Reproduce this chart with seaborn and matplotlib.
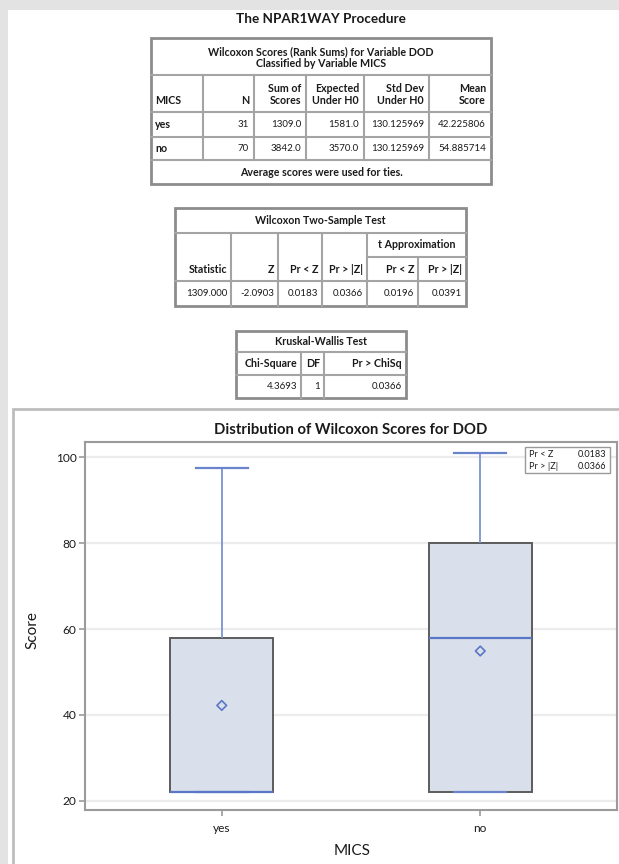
import numpy as np
import pandas as pd
import matplotlib
matplotlib.use("Agg")
import matplotlib.pyplot as plt
import matplotlib.patches as patches
import seaborn as sns

# ---- data ----
groups = ["yes", "no"]
n_obs = ["31", "70"]
sum_scores = ["1309.0", "3842.0"]
expected = ["1581.0", "3570.0"]
std_dev = ["130.125969", "130.125969"]
mean_scores = [42.225806, 54.885714]

# five number summaries (min, q1, median, q3, max)
five_num_yes = [22, 22, 22, 58, 97.5]
five_num_no = [22, 22, 58, 80, 101]

rank_headers = [["MICS"], ["N"], ["Sum of", "Scores"], ["Expected", "Under H0"],
                ["Std Dev", "Under H0"], ["Mean", "Score"]]

wilcoxon_headers = ["Statistic", "Z", "Pr < Z", "Pr > |Z|", "Pr < Z", "Pr > |Z|"]
wilcoxon_values = ["1309.000", "-2.0903", "0.0183", "0.0366", "0.0196", "0.0391"]

kw_headers = ["Chi-Square", "DF", "Pr > ChiSq"]
kw_values = ["4.3693", "1", "0.0366"]

inset_labels = ["Pr < Z", "Pr > |Z|"]
inset_values = ["0.0183", "0.0366"]

y_ticks = [20, 40, 60, 80, 100]

plt.rcParams["font.family"] = ["Lato", "DejaVu Sans"]

W, H = 619, 864
fig = plt.figure(figsize=(W / 100, H / 100), dpi=100, facecolor="#e3e3e3")

BOLD = 7.7   # table header text
NORM = 7.0   # table numbers


def fx(x):
    return x / W


def fy(y):
    return 1 - y / H


def txt(x, y, s, size=NORM, ha="center", va="center", weight="normal", **kw):
    fig.text(fx(x), fy(y), s, fontsize=size, ha=ha, va=va, fontweight=weight,
             color="#1a1a1a", **kw)


def rect(x0, y0, x1, y1, ec="#a4a4a4", lw=1.4, fc=None, z=1):
    fig.add_artist(patches.Rectangle((fx(x0), fy(y1)), fx(x1) - fx(x0), fy(y0) - fy(y1),
                                     transform=fig.transFigure, fill=fc is not None,
                                     facecolor=fc, edgecolor=ec, lw=lw, zorder=z))


def hline(y, x0, x1, c="#a4a4a4", lw=1.5):
    fig.add_artist(plt.Line2D([fx(x0), fx(x1)], [fy(y), fy(y)], color=c, lw=lw,
                              transform=fig.transFigure))


def vline(x, y0, y1, c="#a4a4a4", lw=1.5):
    fig.add_artist(plt.Line2D([fx(x), fx(x)], [fy(y0), fy(y1)], color=c, lw=lw,
                              transform=fig.transFigure))


# white page + plot panel
rect(8, 10, 640, 880, ec="none", fc="white", z=0)
rect(12.5, 409, 640, 880, ec="#bdbdbd", lw=2, z=0.5)

# ---- table 1: rank sums ----
txt(321, 19, "The NPAR1WAY Procedure", size=9.7, weight="bold")
xs1 = [151, 203, 254, 306, 364, 429, 491]
ys1 = [38, 75, 112, 137, 160, 184]
rect(xs1[0], ys1[0], xs1[-1], ys1[-1], ec="#8c8c8c", lw=2)
for y in ys1[1:-1]:
    hline(y, xs1[0], xs1[-1])
for x in xs1[1:-1]:
    vline(x, ys1[1], ys1[4])
txt(321, 52, "Wilcoxon Scores (Rank Sums) for Variable DOD", size=BOLD, weight="bold")
txt(321, 63.5, "Classified by Variable MICS", size=BOLD, weight="bold")
for i, lines in enumerate(rank_headers):
    for j, line in enumerate(reversed(lines)):
        if i == 0:
            txt(xs1[0] + 4, 101 - 12.5 * j, line, size=BOLD, ha="left", weight="bold")
        else:
            txt(xs1[i + 1] - 5, 101 - 12.5 * j, line, size=BOLD, ha="right", weight="bold")
rows = list(zip(groups, n_obs, sum_scores, expected, std_dev,
                ["%.6f" % m for m in mean_scores]))
for row, yc in zip(rows, [124.5, 148.5]):
    txt(xs1[0] + 4, yc, row[0], size=BOLD, ha="left", weight="bold")
    for i, val in enumerate(row[1:], start=1):
        txt(xs1[i + 1] - 5, yc, val, size=NORM, ha="right")
txt(321, 172.5, "Average scores were used for ties.", size=BOLD, weight="bold")

# ---- table 2: Wilcoxon two-sample test ----
xs2 = [175, 231, 278, 322, 367, 418, 466]
ys2 = [208, 233, 281, 306]
rect(xs2[0], ys2[0], xs2[-1], ys2[-1], ec="#8c8c8c", lw=2)
hline(ys2[1], xs2[0], xs2[-1])
hline(ys2[2], xs2[0], xs2[-1])
hline(257, xs2[4], xs2[-1])
for x in xs2[1:5]:
    vline(x, ys2[1], ys2[3])
vline(xs2[5], 257, ys2[3])
txt(320.5, 220.5, "Wilcoxon Two-Sample Test", size=BOLD, weight="bold")
txt((xs2[4] + xs2[6]) / 2, 245, "t Approximation", size=BOLD, weight="bold")
for i, (hd, val) in enumerate(zip(wilcoxon_headers, wilcoxon_values)):
    txt(xs2[i + 1] - 4, 269.5, hd, size=BOLD, ha="right", weight="bold")
    txt(xs2[i + 1] - 4, 293.5, val, size=NORM, ha="right")

# ---- table 3: Kruskal-Wallis ----
xs3 = [236, 301, 324, 406]
ys3 = [331, 352, 375, 398]
rect(xs3[0], ys3[0], xs3[-1], ys3[-1], ec="#8c8c8c", lw=2)
hline(ys3[1], xs3[0], xs3[-1])
hline(ys3[2], xs3[0], xs3[-1])
for x in xs3[1:-1]:
    vline(x, ys3[1], ys3[3])
txt(321, 342, "Kruskal-Wallis Test", size=BOLD, weight="bold")
for i, (hd, val) in enumerate(zip(kw_headers, kw_values)):
    txt(xs3[i + 1] - 4, 363.5, hd, size=BOLD, ha="right", weight="bold")
    txt(xs3[i + 1] - 4, 386.5, val, size=NORM, ha="right")

# ---- box plot ----
df = pd.DataFrame({"MICS": np.repeat(groups, 5),
                   "Score": five_num_yes + five_num_no})
ax = fig.add_axes([fx(85), fy(810), fx(617) - fx(85), fy(442) - fy(810)])
ax.set_facecolor("white")
sns.boxplot(data=df, x="MICS", y="Score", order=groups, ax=ax, width=0.4,
            color="#dae0eb", saturation=1, linecolor="#5c5c5c", linewidth=1.4,
            whis=(0, 100), showfliers=False,
            boxprops=dict(facecolor="#dae0eb", edgecolor="#5c5c5c", zorder=2),
            whiskerprops=dict(color="#7b93d4", lw=1.3),
            capprops=dict(color="#6a84cc", lw=1.6),
            medianprops=dict(color="#5a76c6", lw=1.6))
ax.scatter(np.arange(len(groups)), mean_scores, marker="D", s=24,
           facecolors="none", edgecolors="#5a76c6", linewidths=1.2, zorder=5)

ax.set_xlim(-0.529, 1.529)
ax.set_ylim(17.9, 103.5)
ax.set_yticks(y_ticks)
ax.yaxis.grid(True, color="#ececec", lw=1.6, zorder=0)
ax.set_axisbelow(True)
for sp in ax.spines.values():
    sp.set_color("#9b9b9b")
    sp.set_linewidth(1.5)
ax.tick_params(axis="both", colors="#9b9b9b", length=4, width=1.2,
               labelcolor="#1a1a1a", labelsize=8.6)
ax.tick_params(axis="x", pad=5)
ax.tick_params(axis="y", pad=2)
ax.set_xlabel("")
ax.set_ylabel("")

txt(351, 430, "Distribution of Wilcoxon Scores for DOD", size=10.7, weight="bold")
txt(32, 630, "Score", size=11, rotation=90)
txt(352, 851, "MICS", size=11)

# inset with p-values
rect(525, 447, 610, 473, ec="#9a9a9a", lw=1.0, fc="white", z=3)
for k, (lab, val) in enumerate(zip(inset_labels, inset_values)):
    txt(529, 454.5 + 12 * k, lab, size=6.6, ha="left", zorder=4)
    txt(606, 454.5 + 12 * k, val, size=6.6, ha="right", zorder=4)

fig.savefig("out.png", dpi=100, facecolor=fig.get_facecolor())
